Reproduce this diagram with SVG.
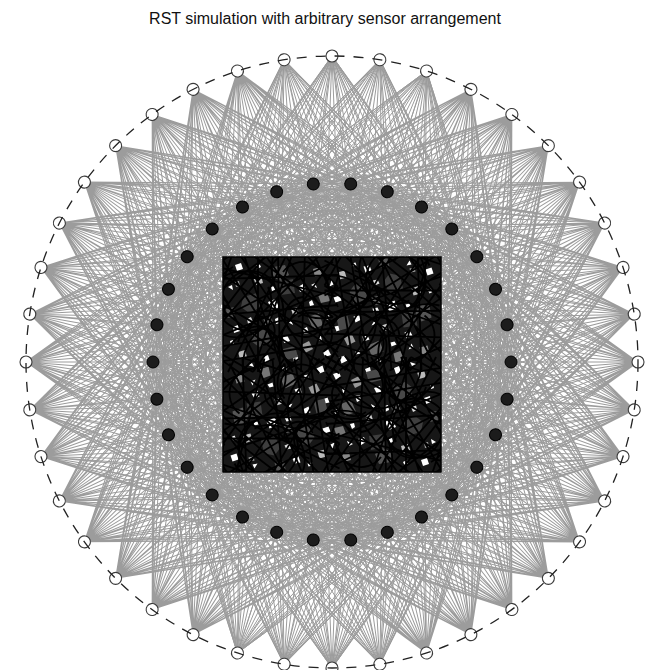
<svg xmlns="http://www.w3.org/2000/svg" xmlns:xlink="http://www.w3.org/1999/xlink" width="646" height="670" viewBox="0 0 646 670">
<style>
.src circle{fill:#fff;stroke:#3a3a3a;stroke-width:1.1}
.sen circle{fill:#1c1c1c;stroke:#000;stroke-width:1}
.title{font-family:"Liberation Sans",Arial,sans-serif;font-size:16px;fill:#111}
</style>
<defs>
<path id="p0" d="M0 -306L18.7 -178M0 -306L55.3 -170.2M0 -306L89.5 -155M0 -306L119.8 -133M0 -306L144.8 -105.2M0 -306L163.5 -72.8M0 -306L175.1 -37.2M0 -306L179 0M0 -306L175.1 37.2M0 -306L163.5 72.8M0 -306L144.8 105.2M0 -306L119.8 133M0 -306L89.5 155M0 -306L55.3 170.2M0 -306L18.7 178M0 -306L-18.7 178M0 -306L-55.3 170.2M0 -306L-89.5 155M0 -306L-119.8 133M0 -306L-144.8 105.2M0 -306L-163.5 72.8M0 -306L-175.1 37.2M0 -306L-179 0M0 -306L-175.1 -37.2M0 -306L-163.5 -72.8M0 -306L-144.8 -105.2M0 -306L-119.8 -133M0 -306L-89.5 -155M0 -306L-55.3 -170.2M0 -306L-18.7 -178"/>
<path id="p9" d="M47.9 -302.2L18.7 -178M47.9 -302.2L55.3 -170.2M47.9 -302.2L89.5 -155M47.9 -302.2L119.8 -133M47.9 -302.2L144.8 -105.2M47.9 -302.2L163.5 -72.8M47.9 -302.2L175.1 -37.2M47.9 -302.2L179 0M47.9 -302.2L175.1 37.2M47.9 -302.2L163.5 72.8M47.9 -302.2L144.8 105.2M47.9 -302.2L119.8 133M47.9 -302.2L89.5 155M47.9 -302.2L55.3 170.2M47.9 -302.2L18.7 178M47.9 -302.2L-18.7 178M47.9 -302.2L-55.3 170.2M47.9 -302.2L-89.5 155M47.9 -302.2L-119.8 133M47.9 -302.2L-144.8 105.2M47.9 -302.2L-163.5 72.8M47.9 -302.2L-175.1 37.2M47.9 -302.2L-179 0M47.9 -302.2L-175.1 -37.2M47.9 -302.2L-163.5 -72.8M47.9 -302.2L-144.8 -105.2M47.9 -302.2L-119.8 -133M47.9 -302.2L-89.5 -155M47.9 -302.2L-55.3 -170.2M47.9 -302.2L-18.7 -178"/>
<path id="p18" d="M94.6 -291L18.7 -178M94.6 -291L55.3 -170.2M94.6 -291L89.5 -155M94.6 -291L119.8 -133M94.6 -291L144.8 -105.2M94.6 -291L163.5 -72.8M94.6 -291L175.1 -37.2M94.6 -291L179 0M94.6 -291L175.1 37.2M94.6 -291L163.5 72.8M94.6 -291L144.8 105.2M94.6 -291L119.8 133M94.6 -291L89.5 155M94.6 -291L55.3 170.2M94.6 -291L18.7 178M94.6 -291L-18.7 178M94.6 -291L-55.3 170.2M94.6 -291L-89.5 155M94.6 -291L-119.8 133M94.6 -291L-144.8 105.2M94.6 -291L-163.5 72.8M94.6 -291L-175.1 37.2M94.6 -291L-179 0M94.6 -291L-175.1 -37.2M94.6 -291L-163.5 -72.8M94.6 -291L-144.8 -105.2M94.6 -291L-119.8 -133M94.6 -291L-89.5 -155M94.6 -291L-55.3 -170.2M94.6 -291L-18.7 -178"/>
<g id="fan"><use href="#p0"/><use href="#p9"/><use href="#p18"/><use href="#p9" transform="rotate(36) scale(-1 1)"/></g>
<g id="tile">
<polygon fill="#fff" points="12,8 18,6 20,12 14,14"/>
<polygon fill="#bbb" points="30,20 38,18 40,26 33,28"/>
<polygon fill="#555" points="50,10 62,8 66,18 58,24 49,20"/>
<polygon fill="#fff" points="75,30 80,27 83,33 77,35"/>
<polygon fill="#888" points="90,12 98,10 100,18 92,20"/>
<polygon fill="#3e3e3e" points="20,40 34,36 38,50 26,56 18,50"/>
<polygon fill="#fff" points="45,45 52,42 56,50 49,54"/>
<polygon fill="#ccc" points="68,52 74,50 76,57 70,58"/>
<polygon fill="#666" points="85,60 96,56 100,68 90,72"/>
<polygon fill="#fff" points="10,70 15,68 17,74 11,76"/>
<polygon fill="#484848" points="30,75 44,72 48,86 36,90 28,84"/>
<polygon fill="#fff" points="60,80 64,78 67,84 61,86"/>
<polygon fill="#999" points="78,88 86,84 90,92 82,96"/>
<polygon fill="#fff" points="100,95 105,92 108,98 102,100"/>
<polygon fill="#bbb" points="15,95 22,93 24,100 17,102"/>
<polygon fill="#3e3e3e" points="55,25 70,22 72,36 58,38"/>
<polygon fill="#fff" points="40,100 45,98 47,104 42,106"/>
<polygon fill="#777" points="95,38 104,35 107,44 98,46"/>
<polygon fill="#fff" points="5,30 9,28 10,33"/>
<polygon fill="#fff" points="65,65 68,63 70,68"/>
<polygon fill="#ddd" points="24,62 28,60 30,65 25,67"/>
<polygon fill="#fff" points="86,45 89,43 91,48 87,49"/>
<polygon fill="#555" points="3,52 11,50 12,60 4,61"/>
<polygon fill="#fff" points="70,100 74,98 76,103 71,105"/>
<polygon fill="#fff" points="33,8 36,6 38,10 34,12"/>
<polygon fill="#fff" points="88,28 92,26 94,31"/>
<polygon fill="#aaa" points="12,25 16,24 17,29 13,30"/>
<polygon fill="#fff" points="52,62 56,60 57,66 53,67"/>
<polygon fill="#666" points="40,60 48,58 50,66 42,68"/>
<polygon fill="#fff" points="80,72 84,70 86,76 81,77"/>
<polygon fill="#ccc" points="102,58 106,57 107,62 103,63"/>
<polygon fill="#fff" points="25,108 29,106 31,110"/>
<polygon fill="#fff" points="95,80 98,79 99,84 96,84"/>
<polygon fill="#4a4a4a" points="60,92 72,89 75,100 63,103"/>
<polygon fill="#fff" points="48,30 51,29 52,33 49,34"/>
<polygon fill="#fff" points="7,84 10,83 11,88 8,88"/>
<path fill="none" stroke="#000" stroke-width="1.8" d="M-5 10L115 40M0 60L110 5M20 -5L60 115M70 -5L30 115M-5 90L115 70M90 -5L115 50M-5 35L50 -5M40 -5L115 100M-5 50L80 115M100 -5L-5 100M10 -5L-5 40M-5 22L115 18M55 -5L57 115M-5 105L115 85M25 -5L115 60M-5 70L60 -5M85 115L115 20M-5 15L115 95M-5 80L115 30M15 -5L95 115M65 -5L5 115M-5 45L115 115M30 115L115 -5M-5 -5L70 115M45 -5L-5 60M80 -5L115 30M-5 95L30 115M60 -5L115 75M-5 58L115 48M35 -5L35 115M82 -5L78 115M-5 28L40 115M100 115L115 90"/>
<path fill="none" stroke="#000" stroke-width="1.8" d="M0 20A40 40 0 0 1 60 60M50 0A50 50 0 0 0 110 60M20 110A45 45 0 0 1 100 80M-5 75A35 35 0 0 0 45 30M70 110A30 30 0 0 1 110 60M30 0A25 25 0 0 0 5 45M80 40A20 20 0 1 0 95 75M35 60A14 14 0 1 1 40 88M10 10A30 30 0 0 0 40 70M60 15A25 25 0 0 1 105 30M15 85A20 20 0 0 1 55 95M75 60A18 18 0 1 1 100 95M5 60A28 28 0 0 1 50 25"/>
</g>
<clipPath id="sq"><rect x="223" y="257" width="218" height="215"/></clipPath>
</defs>
<rect width="646" height="670" fill="#fff"/>
<text class="title" x="325" y="24" text-anchor="middle">RST simulation with arbitrary sensor arrangement</text>
<g transform="translate(332 362)">
<circle r="151" fill="none" stroke="#333" stroke-width="0.9" stroke-dasharray="3 5"/>
<g id="connectors" fill="none" stroke="#9c9c9c" stroke-width="1">
<use href="#fan"/>
<use href="#fan" transform="rotate(36)"/>
<use href="#fan" transform="rotate(72)"/>
<use href="#fan" transform="rotate(108)"/>
<use href="#fan" transform="rotate(144)"/>
<use href="#fan" transform="rotate(180)"/>
<use href="#fan" transform="rotate(216)"/>
<use href="#fan" transform="rotate(252)"/>
<use href="#fan" transform="rotate(288)"/>
<use href="#fan" transform="rotate(324)"/>
</g>
</g>
<g id="grid" clip-path="url(#sq)">
<rect x="223" y="257" width="218" height="215" fill="#171717"/>
<g transform="translate(223 257)">
<use href="#tile"/>
<use href="#tile" transform="rotate(90 109 107.5)"/>
<use href="#tile" transform="rotate(180 109 107.5)"/>
<use href="#tile" transform="rotate(270 109 107.5)"/>
</g>
</g>
<rect x="223" y="257" width="218" height="215" fill="none" stroke="#000" stroke-width="1.5"/>
<g transform="translate(332 362)">
<g class="sen">
<g id="sensor-0" transform="rotate(6)"><circle cy="-179" r="6"/></g>
<g id="sensor-1" transform="rotate(18)"><circle cy="-179" r="6"/></g>
<g id="sensor-2" transform="rotate(30)"><circle cy="-179" r="6"/></g>
<g id="sensor-3" transform="rotate(42)"><circle cy="-179" r="6"/></g>
<g id="sensor-4" transform="rotate(54)"><circle cy="-179" r="6"/></g>
<g id="sensor-5" transform="rotate(66)"><circle cy="-179" r="6"/></g>
<g id="sensor-6" transform="rotate(78)"><circle cy="-179" r="6"/></g>
<g id="sensor-7" transform="rotate(90)"><circle cy="-179" r="6"/></g>
<g id="sensor-8" transform="rotate(102)"><circle cy="-179" r="6"/></g>
<g id="sensor-9" transform="rotate(114)"><circle cy="-179" r="6"/></g>
<g id="sensor-10" transform="rotate(126)"><circle cy="-179" r="6"/></g>
<g id="sensor-11" transform="rotate(138)"><circle cy="-179" r="6"/></g>
<g id="sensor-12" transform="rotate(150)"><circle cy="-179" r="6"/></g>
<g id="sensor-13" transform="rotate(162)"><circle cy="-179" r="6"/></g>
<g id="sensor-14" transform="rotate(174)"><circle cy="-179" r="6"/></g>
<g id="sensor-15" transform="rotate(186)"><circle cy="-179" r="6"/></g>
<g id="sensor-16" transform="rotate(198)"><circle cy="-179" r="6"/></g>
<g id="sensor-17" transform="rotate(210)"><circle cy="-179" r="6"/></g>
<g id="sensor-18" transform="rotate(222)"><circle cy="-179" r="6"/></g>
<g id="sensor-19" transform="rotate(234)"><circle cy="-179" r="6"/></g>
<g id="sensor-20" transform="rotate(246)"><circle cy="-179" r="6"/></g>
<g id="sensor-21" transform="rotate(258)"><circle cy="-179" r="6"/></g>
<g id="sensor-22" transform="rotate(270)"><circle cy="-179" r="6"/></g>
<g id="sensor-23" transform="rotate(282)"><circle cy="-179" r="6"/></g>
<g id="sensor-24" transform="rotate(294)"><circle cy="-179" r="6"/></g>
<g id="sensor-25" transform="rotate(306)"><circle cy="-179" r="6"/></g>
<g id="sensor-26" transform="rotate(318)"><circle cy="-179" r="6"/></g>
<g id="sensor-27" transform="rotate(330)"><circle cy="-179" r="6"/></g>
<g id="sensor-28" transform="rotate(342)"><circle cy="-179" r="6"/></g>
<g id="sensor-29" transform="rotate(354)"><circle cy="-179" r="6"/></g>
</g>
<g class="src">
<g id="source-0" transform="rotate(0)"><circle cy="-306" r="6"/></g>
<g id="source-1" transform="rotate(9)"><circle cy="-306" r="6"/></g>
<g id="source-2" transform="rotate(18)"><circle cy="-306" r="6"/></g>
<g id="source-3" transform="rotate(27)"><circle cy="-306" r="6"/></g>
<g id="source-4" transform="rotate(36)"><circle cy="-306" r="6"/></g>
<g id="source-5" transform="rotate(45)"><circle cy="-306" r="6"/></g>
<g id="source-6" transform="rotate(54)"><circle cy="-306" r="6"/></g>
<g id="source-7" transform="rotate(63)"><circle cy="-306" r="6"/></g>
<g id="source-8" transform="rotate(72)"><circle cy="-306" r="6"/></g>
<g id="source-9" transform="rotate(81)"><circle cy="-306" r="6"/></g>
<g id="source-10" transform="rotate(90)"><circle cy="-306" r="6"/></g>
<g id="source-11" transform="rotate(99)"><circle cy="-306" r="6"/></g>
<g id="source-12" transform="rotate(108)"><circle cy="-306" r="6"/></g>
<g id="source-13" transform="rotate(117)"><circle cy="-306" r="6"/></g>
<g id="source-14" transform="rotate(126)"><circle cy="-306" r="6"/></g>
<g id="source-15" transform="rotate(135)"><circle cy="-306" r="6"/></g>
<g id="source-16" transform="rotate(144)"><circle cy="-306" r="6"/></g>
<g id="source-17" transform="rotate(153)"><circle cy="-306" r="6"/></g>
<g id="source-18" transform="rotate(162)"><circle cy="-306" r="6"/></g>
<g id="source-19" transform="rotate(171)"><circle cy="-306" r="6"/></g>
<g id="source-20" transform="rotate(180)"><circle cy="-306" r="6"/></g>
<g id="source-21" transform="rotate(189)"><circle cy="-306" r="6"/></g>
<g id="source-22" transform="rotate(198)"><circle cy="-306" r="6"/></g>
<g id="source-23" transform="rotate(207)"><circle cy="-306" r="6"/></g>
<g id="source-24" transform="rotate(216)"><circle cy="-306" r="6"/></g>
<g id="source-25" transform="rotate(225)"><circle cy="-306" r="6"/></g>
<g id="source-26" transform="rotate(234)"><circle cy="-306" r="6"/></g>
<g id="source-27" transform="rotate(243)"><circle cy="-306" r="6"/></g>
<g id="source-28" transform="rotate(252)"><circle cy="-306" r="6"/></g>
<g id="source-29" transform="rotate(261)"><circle cy="-306" r="6"/></g>
<g id="source-30" transform="rotate(270)"><circle cy="-306" r="6"/></g>
<g id="source-31" transform="rotate(279)"><circle cy="-306" r="6"/></g>
<g id="source-32" transform="rotate(288)"><circle cy="-306" r="6"/></g>
<g id="source-33" transform="rotate(297)"><circle cy="-306" r="6"/></g>
<g id="source-34" transform="rotate(306)"><circle cy="-306" r="6"/></g>
<g id="source-35" transform="rotate(315)"><circle cy="-306" r="6"/></g>
<g id="source-36" transform="rotate(324)"><circle cy="-306" r="6"/></g>
<g id="source-37" transform="rotate(333)"><circle cy="-306" r="6"/></g>
<g id="source-38" transform="rotate(342)"><circle cy="-306" r="6"/></g>
<g id="source-39" transform="rotate(351)"><circle cy="-306" r="6"/></g>
</g>
<circle r="306" fill="none" stroke="#222" stroke-width="1.3" stroke-dasharray="10 9"/>
</g>
</svg>
